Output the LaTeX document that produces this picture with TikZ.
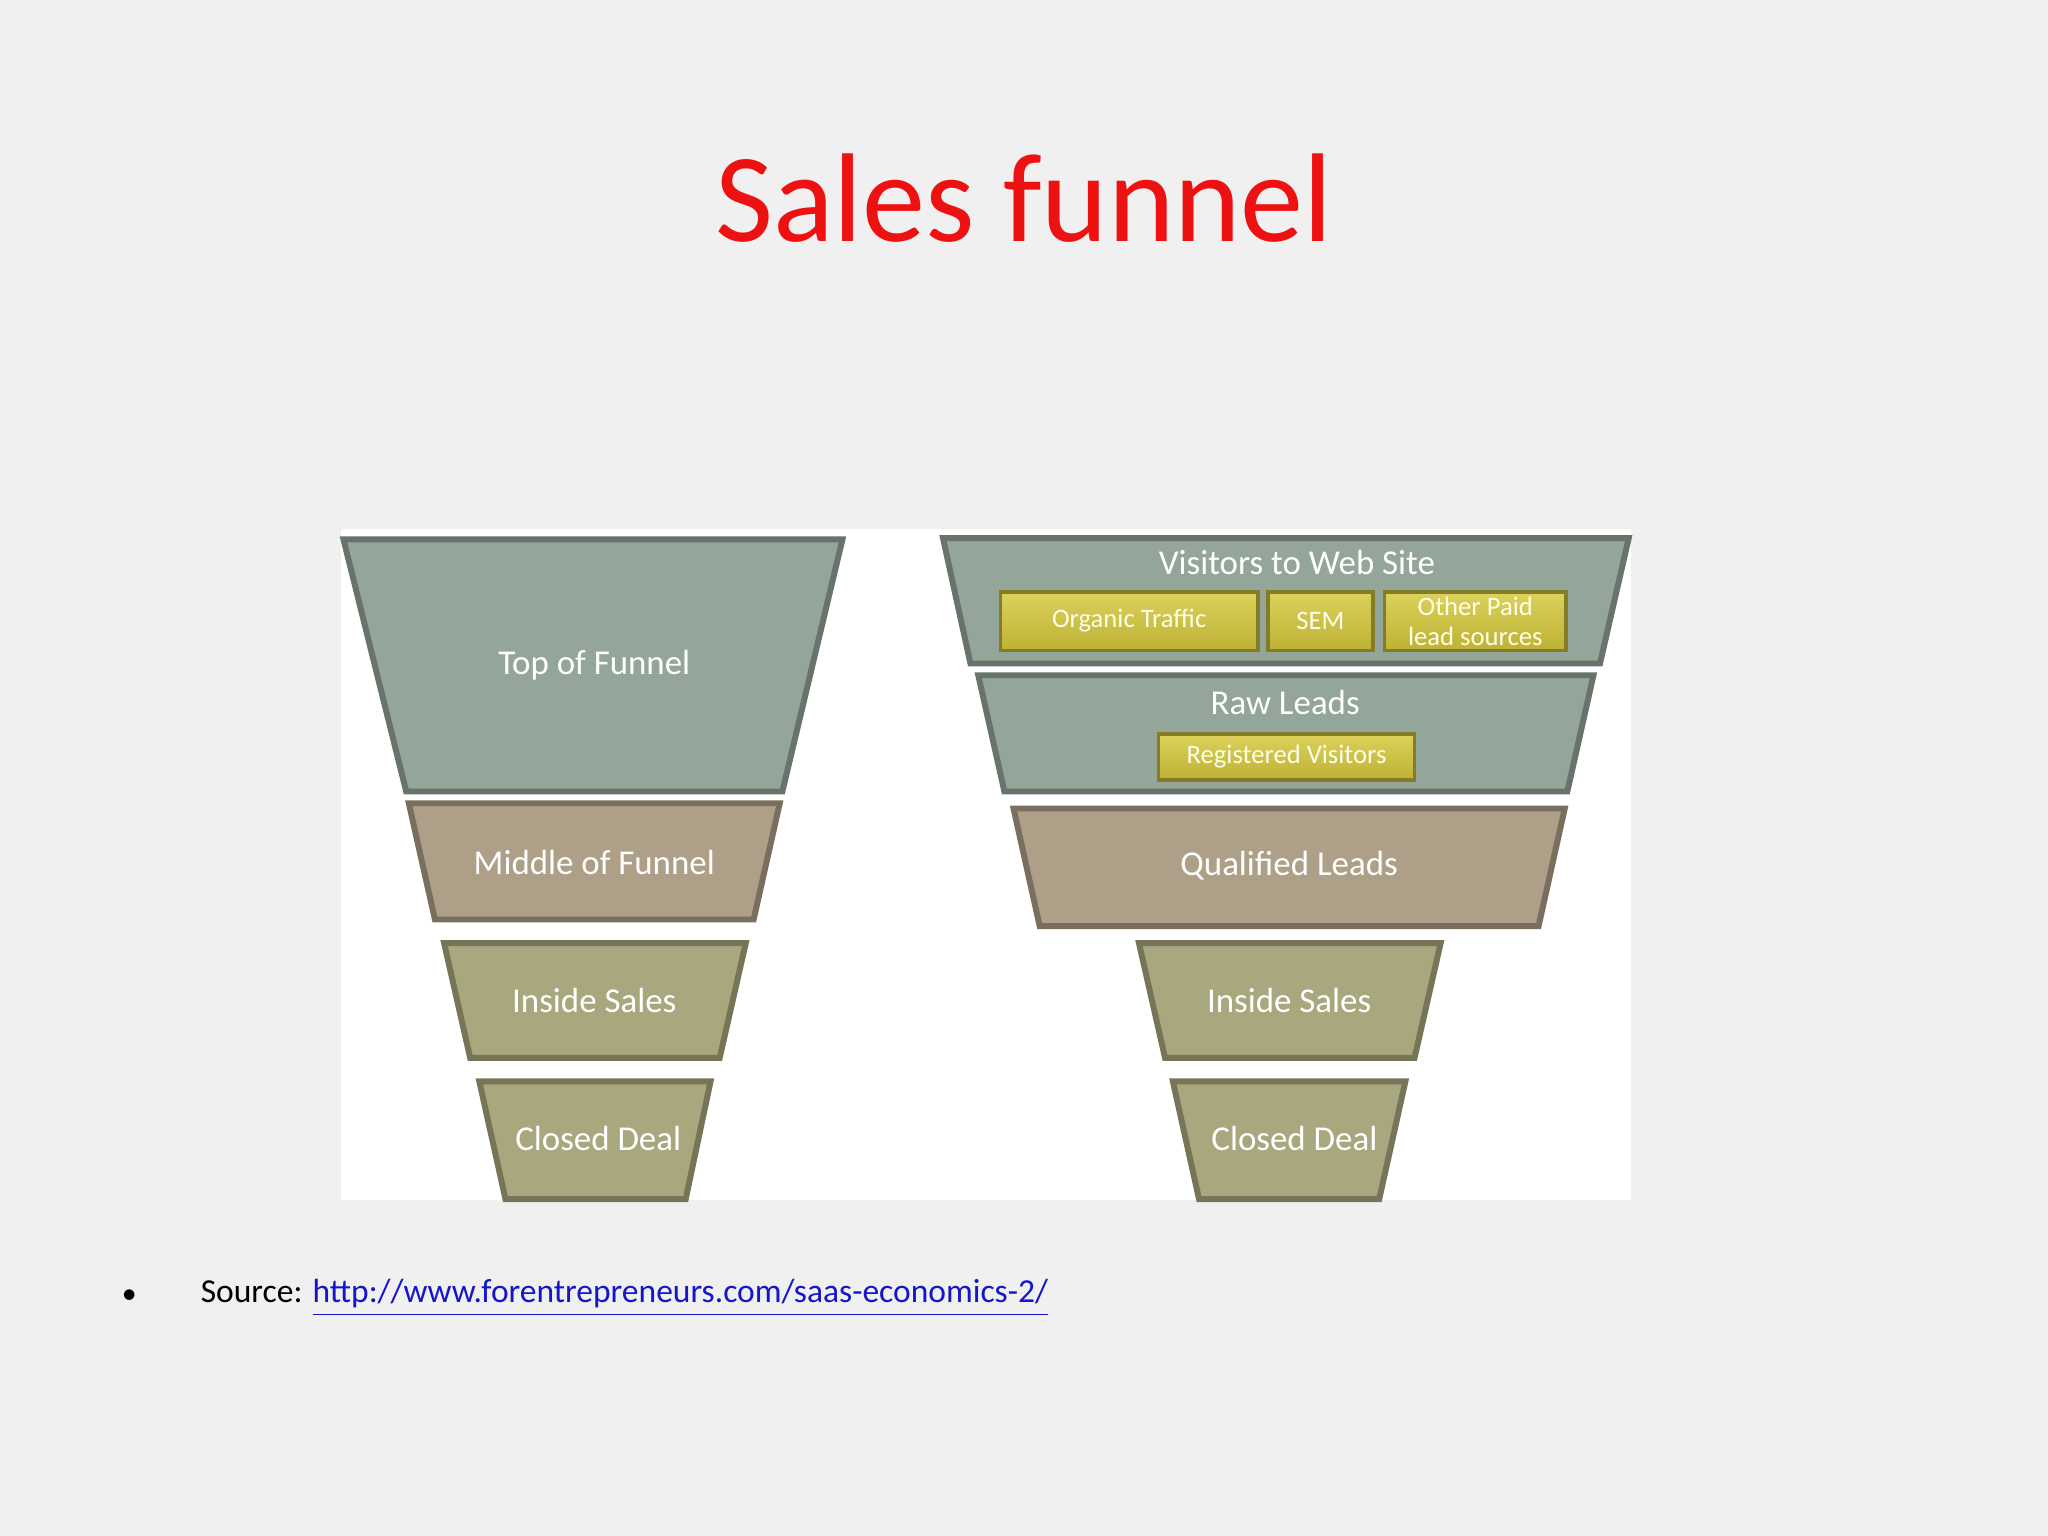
\documentclass[tikz,border=0pt]{standalone}
\usepackage{fontspec}
\setmainfont{Carlito}
\begin{document}
\begin{tikzpicture}[x=0.01cm,y=-0.01cm,
  tz/.style={draw=#1!70!black,line width=1.3pt,fill=#1},
  lab/.style={text=white,font=\fontsize{7.6}{9}\selectfont},
  ylab/.style={text=white!92!yellow,font=\fontsize{5.8}{6.6}\selectfont,align=center},
  ybox/.style={draw=yb!70!black,line width=0.8pt,top color=yt,bottom color=yb}]
\definecolor{fg}{HTML}{94A59A}
\definecolor{fb}{HTML}{AE9F88}
\definecolor{fo}{HTML}{A9A77E}
\definecolor{yt}{HTML}{DDD25A}
\definecolor{yb}{HTML}{BDB236}
\definecolor{tred}{HTML}{EE1111}
\fill[gray!12] (0,0) rectangle (1568,1176);
\fill[white] (261,405) rectangle (1249,919);
\node[text=tred,font=\fontsize{27.5}{32}\selectfont] (title) at (784,152) {Sales funnel};
% left funnel
\draw[tz=fg] (263,413)--(645,413)--(599,606)--(311,606)--cycle;
\node[lab] (l1) at (455,509) {Top of Funnel};
\draw[tz=fb] (313,615)--(597,615)--(577,704)--(333,704)--cycle;
\node[lab] (l2) at (455,660) {Middle of Funnel};
\draw[tz=fo] (340,722)--(571,722)--(551,810)--(360,810)--cycle;
\node[lab] (l3) at (455,766) {Inside Sales};
\draw[tz=fo] (367,828)--(544,828)--(525,918)--(387,918)--cycle;
\node[lab] (l4) at (458,872) {Closed Deal};
% right funnel
\draw[tz=fg] (722,412)--(1247,412)--(1225,508)--(743,508)--cycle;
\node[lab] (r1) at (993,431) {Visitors to Web Site};
\draw[ybox] (766,453) rectangle (963,498);
\node[ylab] (o1) at (864.5,475.5) {Organic Traffic};
\draw[ybox] (971,453) rectangle (1051,498);
\node[ylab] (o2) at (1011,475.5) {SEM};
\draw[ybox] (1060,453) rectangle (1199,498);
\node[ylab] (o3) at (1129.5,475.5) {Other Paid\\lead sources};
\draw[tz=fg] (749,517)--(1220,517)--(1200,606)--(769,606)--cycle;
\node[lab] (r2) at (984,538) {Raw Leads};
\draw[ybox] (887,562) rectangle (1083,597);
\node[ylab] (o4) at (985,579) {Registered Visitors};
\draw[tz=fb] (776,619)--(1198,619)--(1178,709)--(796,709)--cycle;
\node[lab] (r3) at (987,663) {Qualified Leads};
\draw[tz=fo] (872,722)--(1103,722)--(1083,810)--(892,810)--cycle;
\node[lab] (r4) at (987,766) {Inside Sales};
\draw[tz=fo] (898,828)--(1076,828)--(1056,918)--(918,918)--cycle;
\node[lab] (r5) at (991,872) {Closed Deal};
% source
\node[font=\fontsize{6.5}{8}\selectfont] (b) at (99,993) {•};
\node[anchor=west,font=\fontsize{7.3}{9}\selectfont,inner sep=0pt] (src) at (153,994) {Source: \textcolor[HTML]{1515CC}{\underline{http://www.forentrepreneurs.com/saas-economics-2/}}};
\end{tikzpicture}
\end{document}
